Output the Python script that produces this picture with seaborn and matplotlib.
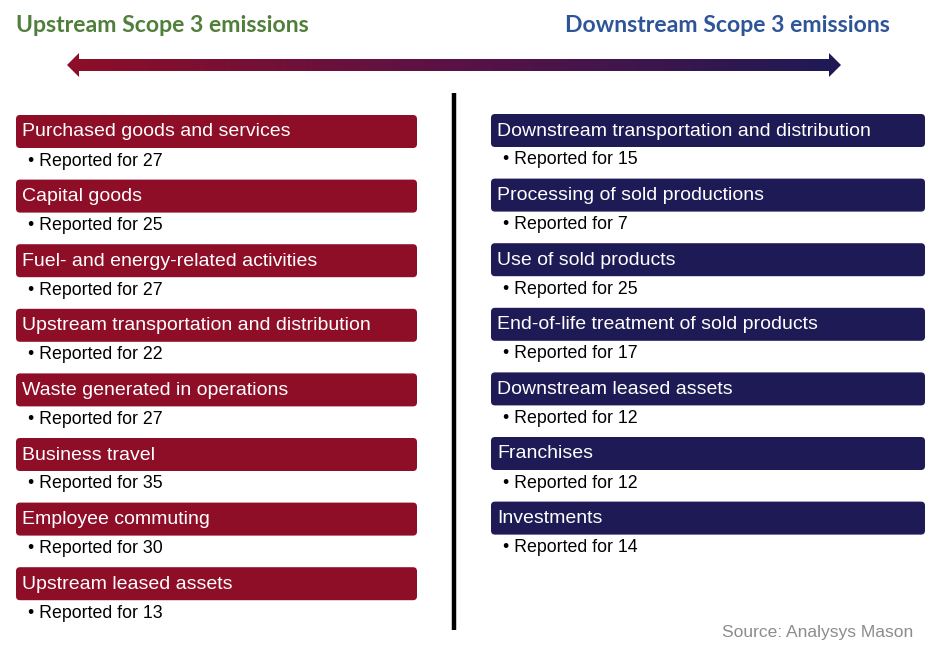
import numpy as np
import matplotlib.pyplot as plt
import seaborn as sns
from matplotlib.patches import FancyBboxPatch, Polygon

upstream = ["Purchased goods and services", "Capital goods", "Fuel- and energy-related activities",
            "Upstream transportation and distribution", "Waste generated in operations",
            "Business travel", "Employee commuting", "Upstream leased assets"]
upstream_n = [27, 25, 27, 22, 27, 35, 30, 13]

downstream = ["Downstream transportation and distribution", "Processing of sold productions",
              "Use of sold products", "End-of-life treatment of sold products",
              "Downstream leased assets", "Franchises", "Investments"]
downstream_n = [15, 7, 25, 17, 12, 12, 14]

RED = "#8e0e28"
NAVY = "#1e1a55"

sns.set_theme(style="white")
plt.rcParams['font.family'] = ['Liberation Sans', 'DejaVu Sans']

fig = plt.figure(figsize=(9.29, 6.55), dpi=100)
ax = fig.add_axes([0, 0, 1, 1])
ax.axis("off")

# headers
ax.text(16, 25, "Upstream Scope 3 emissions", color="#4f7f3a", fontsize=16.6,
        fontweight="bold", family=["Lato", "DejaVu Sans"], va="center", ha="left")
ax.text(890, 25, "Downstream Scope 3 emissions", color="#2e5597", fontsize=16.6,
        fontweight="bold", family=["Lato", "DejaVu Sans"], va="center", ha="right")

# gradient arrow
pts = [(67, 65), (79, 53), (79, 59), (829, 59), (829, 53), (841, 65),
       (829, 77), (829, 71), (79, 71), (79, 77)]
arrow = Polygon(pts, closed=True, facecolor="none", edgecolor="none")
ax.add_patch(arrow)
grad = np.linspace(0, 1, 256).reshape(1, -1)
cmap = sns.blend_palette([RED, "#5a1245", NAVY], as_cmap=True)
im = ax.imshow(grad, extent=[67, 841, 77, 53], cmap=cmap, aspect="auto", zorder=2)
im.set_clip_path(arrow)
ax.set_xlim(0, 929)
ax.set_ylim(655, 0)

# divider
ax.plot([454, 454], [93, 630], color="black", lw=3.2, solid_capstyle="butt")

step = 64.6


def column(names, counts, x0, x1, y0, color):
    for i, (name, n) in enumerate(zip(names, counts)):
        top = y0 + i * step
        box = FancyBboxPatch((x0, top), x1 - x0, 33, boxstyle="round,pad=0,rounding_size=4",
                             facecolor=color, edgecolor="none")
        ax.add_patch(box)
        ax.text(x0 + 6, top + 17, name, color="white", fontsize=14, va="center", ha="left")
        ax.text(x0 + 12, top + 46, "\u2022 Reported for %d" % n, color="black",
                fontsize=12.8, va="center", ha="left")


column(upstream, upstream_n, 16, 417, 115, RED)
column(downstream, downstream_n, 491, 925, 114, NAVY)

ax.text(913, 632, "Source: Analysys Mason", color="#8c8c8c", fontsize=12.5,
        va="center", ha="right")

fig.savefig("out.png", dpi=100, facecolor="white")
